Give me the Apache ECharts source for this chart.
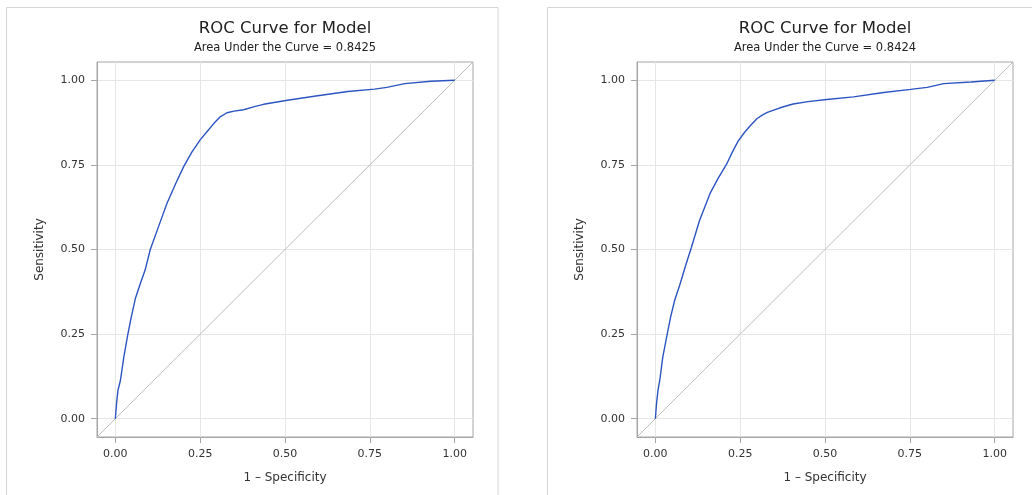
<!DOCTYPE html>
<html>
<head>
<meta charset="utf-8">
<script src="https://cdn.jsdelivr.net/npm/echarts@6/dist/echarts.min.js"></script>
<style>
  html, body { margin: 0; padding: 0; background: #fff; }
  #main { width: 1032px; height: 495px; }
</style>
</head>
<body>
<div id="main"></div>
<script>
const tickValues = [0, 0.25, 0.5, 0.75, 1];
const axisMin = -0.054;
const axisMax = 1.054;

const leftFpr = [0, 0.004, 0.008, 0.015, 0.025, 0.037, 0.047, 0.059, 0.074, 0.088, 0.103, 0.13, 0.152, 0.178, 0.201, 0.225, 0.25, 0.27, 0.29, 0.309, 0.329, 0.35, 0.378, 0.41, 0.437, 0.507, 0.586, 0.685, 0.764, 0.8, 0.853, 0.93, 1];
const leftTpr = [0, 0.05, 0.085, 0.113, 0.182, 0.25, 0.3, 0.355, 0.4, 0.44, 0.5, 0.575, 0.636, 0.695, 0.744, 0.787, 0.824, 0.848, 0.872, 0.892, 0.904, 0.909, 0.913, 0.922, 0.929, 0.941, 0.953, 0.967, 0.974, 0.979, 0.99, 0.997, 1];

const rightFpr = [0, 0.004, 0.008, 0.013, 0.022, 0.035, 0.045, 0.057, 0.072, 0.09, 0.106, 0.13, 0.161, 0.185, 0.21, 0.228, 0.244, 0.262, 0.279, 0.3, 0.315, 0.33, 0.347, 0.375, 0.406, 0.45, 0.505, 0.584, 0.673, 0.752, 0.801, 0.85, 0.93, 1];
const rightTpr = [0, 0.05, 0.085, 0.113, 0.182, 0.25, 0.3, 0.35, 0.395, 0.455, 0.505, 0.585, 0.665, 0.71, 0.752, 0.79, 0.82, 0.845, 0.865, 0.887, 0.897, 0.905, 0.911, 0.921, 0.93, 0.937, 0.943, 0.951, 0.964, 0.973, 0.979, 0.99, 0.995, 1];

const titles = ['ROC Curve for Model', 'ROC Curve for Model'];
const subtitles = ['Area Under the Curve = 0.8425', 'Area Under the Curve = 0.8424'];

const font = 'DejaVu Sans';
const frameColor = '#a6a6a6';
const curveColor = '#2c55c2';

const zip = (a, b) => a.map((v, i) => [v, b[i]]);

const grids = [
  { left: 97, top: 62, width: 376, height: 375 },
  { left: 637, top: 62, width: 376, height: 375 }
];

const makeX = (i) => ({
  gridIndex: i,
  type: 'value',
  min: axisMin,
  max: axisMax,
  name: '1 \u2013 Specificity',
  nameLocation: 'middle',
  nameGap: 35,
  nameTextStyle: { color: '#333', fontSize: 12, fontFamily: font },
  axisLine: { show: true, onZero: false, lineStyle: { color: frameColor } },
  axisTick: { show: true, length: 6, customValues: tickValues, lineStyle: { color: frameColor } },
  axisLabel: { customValues: tickValues, formatter: v => v.toFixed(2), margin: 12, color: '#333', fontSize: 11, fontFamily: font },
  splitLine: { show: true, lineStyle: { color: '#e6e6e6' } }
});

const makeY = (i) => ({
  gridIndex: i,
  type: 'value',
  min: axisMin,
  max: axisMax,
  name: 'Sensitivity',
  nameLocation: 'middle',
  nameGap: 51,
  nameTextStyle: { color: '#333', fontSize: 12, fontFamily: font },
  axisLine: { show: true, onZero: false, lineStyle: { color: frameColor } },
  axisTick: { show: true, length: 6, customValues: tickValues, lineStyle: { color: frameColor } },
  axisLabel: { customValues: tickValues, formatter: v => v.toFixed(2), margin: 12, color: '#333', fontSize: 11, fontFamily: font },
  splitLine: { show: true, lineStyle: { color: '#e6e6e6' } }
});

const chart = echarts.init(document.getElementById('main'));

chart.setOption({
  animation: false,
  backgroundColor: '#fff',
  graphic: [
    { type: 'rect', shape: { x: 6.5, y: 7.5, width: 491.5, height: 500 }, style: { fill: 'none', stroke: '#d6d6d6', lineWidth: 1 }, silent: true },
    { type: 'rect', shape: { x: 547.5, y: 7.5, width: 500, height: 500 }, style: { fill: 'none', stroke: '#d6d6d6', lineWidth: 1 }, silent: true }
  ],
  title: grids.map((g, i) => ({
    text: titles[i],
    subtext: subtitles[i],
    left: g.left + g.width / 2,
    top: 20,
    textAlign: 'center',
    padding: 0,
    itemGap: 5,
    textStyle: { color: '#222', fontSize: 16.5, fontWeight: 'normal', fontFamily: font },
    subtextStyle: { color: '#222', fontSize: 11.5, fontFamily: font }
  })),
  grid: grids.map(g => ({ ...g, show: true, borderColor: frameColor, borderWidth: 1, backgroundColor: 'transparent' })),
  xAxis: [makeX(0), makeX(1)],
  yAxis: [makeY(0), makeY(1)],
  series: [
    {
      type: 'line', xAxisIndex: 0, yAxisIndex: 0, silent: true, symbol: 'none',
      lineStyle: { color: '#bdbdbd', width: 1 },
      data: [[axisMin, axisMin], [axisMax, axisMax]]
    },
    {
      type: 'line', xAxisIndex: 1, yAxisIndex: 1, silent: true, symbol: 'none',
      lineStyle: { color: '#bdbdbd', width: 1 },
      data: [[axisMin, axisMin], [axisMax, axisMax]]
    },
    {
      type: 'line', xAxisIndex: 0, yAxisIndex: 0, silent: true, symbol: 'none',
      lineStyle: { color: curveColor, width: 1.4 },
      data: zip(leftFpr, leftTpr)
    },
    {
      type: 'line', xAxisIndex: 1, yAxisIndex: 1, silent: true, symbol: 'none',
      lineStyle: { color: curveColor, width: 1.4 },
      data: zip(rightFpr, rightTpr)
    }
  ]
});
</script>
</body>
</html>
